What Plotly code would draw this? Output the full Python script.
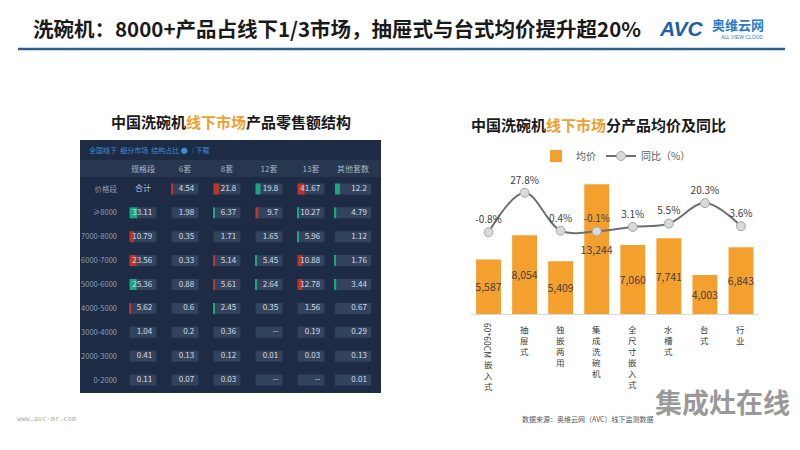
import plotly.graph_objects as go

# ---------------- data: right chart ----------------
categories = ["60*60CM嵌入式", "抽屉式", "独嵌两用", "集成洗碗机", "全尺寸嵌入式", "水槽式", "台式", "行业"]
avg_price = [5587, 8054, 5409, 13244, 7060, 7741, 4003, 6843]
yoy_pct = [-0.8, 27.8, 0.4, -0.1, 3.1, 5.5, 20.3, 3.6]

# ---------------- data: left table ----------------
table_cols = ["规格段", "6套", "8套", "12套", "13套", "其他套数"]
table_rows = ["价格段", "≥8000", "7000-8000", "6000-7000", "5000-6000",
              "4000-5000", "3000-4000", "2000-3000", "0-2000"]
table_vals = [
    ["合计", "4.54", "21.8", "19.8", "41.67", "12.2"],
    ["33.11", "1.98", "6.37", "9.7", "10.27", "4.79"],
    ["10.79", "0.35", "1.71", "1.65", "5.96", "1.12"],
    ["23.56", "0.33", "5.14", "5.45", "10.88", "1.76"],
    ["25.36", "0.88", "5.61", "2.64", "12.78", "3.44"],
    ["5.62", "0.6", "2.45", "0.35", "1.56", "0.67"],
    ["1.04", "0.2", "0.36", "--", "0.19", "0.29"],
    ["0.41", "0.13", "0.12", "0.01", "0.03", "0.13"],
    ["0.11", "0.07", "0.03", "--", "--", "0.01"],
]
# signed change indicator shown as coloured stripe (estimated)
table_change = [
    [0, -1.0, -5.0, 4.5, -6.5, 4.5],
    [7.0, 0, 1.2, -2.5, 1.2, 1.2],
    [-4.0, 0, 0, 0, 1.2, 0],
    [-6.5, 0, -1.5, 1.0, -4.5, 0.6],
    [6.5, 0, -1.5, 0.6, -4.5, 1.2],
    [-1.5, 0, 0.6, 0, 0, 0],
    [0, 0, 0, 0, 0, 0],
    [0, 0, 0, 0, 0, 0],
    [0, 0, 0, 0, 0, 0],
]

FONT = "Noto Sans CJK SC"
ORANGE = "#F4A02E"
W, H = 800, 450


def px_x(v):
    return v / W


def px_y(v):
    return 1 - v / H


fig = go.Figure()

# ---------------- right chart traces ----------------
fig.add_trace(go.Bar(
    x=categories, y=avg_price, name="均价",
    marker=dict(color=ORANGE, line=dict(width=0)),
    text=avg_price, texttemplate="%{y:,}", textposition="inside",
    insidetextanchor="middle", textangle=0, constraintext="none",
    textfont=dict(family=FONT, size=10.5, color="#404040"),
    xaxis="x", yaxis="y", cliponaxis=False,
))
fig.add_trace(go.Scatter(
    x=categories, y=yoy_pct, name="同比（%）",
    mode="lines+markers+text",
    line=dict(color="#6E6E6E", width=2, shape="spline", smoothing=1.0),
    marker=dict(size=9, color="#D9D9D9", line=dict(color="#A6A6A6", width=1)),
    text=[f"{v}%" for v in yoy_pct], textposition="top center",
    textfont=dict(family=FONT, size=10, color="#404040"),
    xaxis="x", yaxis="y2", cliponaxis=False,
))

# ---------------- left table traces ----------------
box_w = [0.64, 0.64, 0.64, 0.64, 0.64, 0.86]
k = 0.026  # stripe length per change unit (axis units)
bx, by, bbase = [], [], []
sx, sy, sbase, scol = [], [], [], []
tx, ty, tt = [], [], []
hx, hy, ht = [], [], []
for r, row in enumerate(table_rows):
    for c in range(len(table_cols)):
        val = table_vals[r][c]
        w = box_w[c]
        if val == "合计":
            hx.append(c); hy.append(row); ht.append(val)
            continue
        bx.append(w); by.append(row); bbase.append(c - w / 2)
        ch = table_change[r][c]
        if ch:
            sx.append(abs(ch) * k); sy.append(row); sbase.append(c - w / 2)
            scol.append("#1DA57E" if ch > 0 else "#B8372C")
        tx.append(c + w / 2 - 0.1); ty.append(row); tt.append(val)

fig.add_trace(go.Bar(
    x=bx, y=by, base=bbase, orientation="h", width=0.46,
    marker=dict(color="#33435E", line=dict(width=0)),
    xaxis="x3", yaxis="y3", showlegend=False, hoverinfo="skip",
))
fig.add_trace(go.Bar(
    x=sx, y=sy, base=sbase, orientation="h", width=0.46,
    marker=dict(color=scol, line=dict(width=0)),
    xaxis="x3", yaxis="y3", showlegend=False, hoverinfo="skip",
))
fig.add_trace(go.Scatter(
    x=tx, y=ty, text=tt, mode="text", textposition="middle left",
    textfont=dict(family=FONT, size=8, color="#D3DBE8"),
    xaxis="x3", yaxis="y3", showlegend=False, hoverinfo="skip", cliponaxis=False,
))
fig.add_trace(go.Scatter(
    x=hx, y=hy, text=ht, mode="text", textposition="middle center",
    textfont=dict(family=FONT, size=8, color="#AEBBD0"),
    xaxis="x3", yaxis="y3", showlegend=False, hoverinfo="skip", cliponaxis=False,
))

# ---------------- shapes ----------------
shapes = [
    dict(type="line", xref="paper", yref="paper", x0=px_x(18), x1=px_x(785),
         y0=px_y(49), y1=px_y(49), line=dict(color="#2E5E8E", width=2.5)),
    dict(type="rect", xref="paper", yref="paper", x0=px_x(80), x1=px_x(381),
         y0=px_y(393), y1=px_y(140), fillcolor="#1D2B45", line=dict(width=0), layer="below"),
    dict(type="rect", xref="paper", yref="paper", x0=px_x(80), x1=px_x(381),
         y0=px_y(177), y1=px_y(160), fillcolor="#27374F", line=dict(width=0), layer="below"),
]

# ---------------- annotations ----------------
ann = []
ann.append(dict(text="<b>洗碗机：8000+产品占线下1/3市场，抽屉式与台式均价提升超20%</b>",
                x=px_x(31), y=px_y(28), xanchor="left", yanchor="middle",
                font=dict(family=FONT, size=20.5, color="#1A1A1A")))
ann.append(dict(text="<b><i>AVC</i></b>", x=px_x(657), y=px_y(29), xanchor="left", yanchor="middle",
                font=dict(family="Liberation Sans", size=21, color="#1F5FA6")))
ann.append(dict(text="<b>奥维云网</b>", x=px_x(710), y=px_y(24), xanchor="left", yanchor="middle",
                font=dict(family=FONT, size=13, color="#2B7CC6")))
ann.append(dict(text="ALL VIEW CLOUD", x=px_x(742), y=px_y(37), xanchor="center", yanchor="middle",
                font=dict(family="Liberation Sans", size=5, color="#2B7CC6")))
ann.append(dict(text="<b>中国洗碗机<span style='color:#F0A030'>线下市场</span>产品零售额结构</b>",
                x=px_x(231), y=px_y(122), xanchor="center", yanchor="middle",
                font=dict(family=FONT, size=15, color="#1A1A1A")))
ann.append(dict(text="<b>中国洗碗机<span style='color:#F0A030'>线下市场</span>分产品均价及同比</b>",
                x=px_x(598), y=px_y(124), xanchor="center", yanchor="middle",
                font=dict(family=FONT, size=15, color="#1A1A1A")))
ann.append(dict(text="全国线下  细分市场  结构占比 ●", x=px_x(87), y=px_y(150),
                xanchor="left", yanchor="middle",
                font=dict(family=FONT, size=7, color="#3F8EDB")))
ann.append(dict(text="⫶ 下载", x=px_x(190), y=px_y(150), xanchor="left", yanchor="middle",
                font=dict(family=FONT, size=7, color="#3F8EDB")))
ann.append(dict(text="www.avc-mr.com", x=px_x(15), y=px_y(419), xanchor="left", yanchor="middle",
                font=dict(family="DejaVu Sans Mono", size=7, color="#AAAAAA")))
ann.append(dict(text="数据来源：奥维云网（AVC）线下监测数据", x=px_x(520), y=px_y(419),
                xanchor="left", yanchor="middle",
                font=dict(family=FONT, size=7, color="#555555")))
ann.append(dict(text="<b>集成灶在线</b>", x=px_x(722), y=px_y(401), xanchor="center", yanchor="middle",
                font=dict(family=FONT, size=27, color="rgba(120,120,120,0.75)")))

# vertical category labels
label_top = px_y(321)
for cat in categories:
    i = 0
    while i < len(cat) and ord(cat[i]) < 128:
        i += 1
    latin, cjk = cat[:i], cat[i:]
    shift = 0
    if latin:
        ann.append(dict(text=latin, x=cat, xref="x", y=label_top, yref="paper",
                        xanchor="center", yanchor="top", textangle=90, showarrow=False,
                        font=dict(family=FONT, size=8.5, color="#404040")))
        shift = -(len(latin) * 4.9 + 1)
    ann.append(dict(text="<br>".join(cjk), x=cat, xref="x", y=label_top, yref="paper",
                    xanchor="center", yanchor="top", yshift=shift, showarrow=False,
                    font=dict(family=FONT, size=8.5, color="#404040")))

for a in ann:
    a.setdefault("xref", "paper")
    a.setdefault("yref", "paper")
    a.setdefault("showarrow", False)

fig.update_layout(
    width=W, height=H,
    margin=dict(l=0, r=0, t=0, b=0),
    paper_bgcolor="white", plot_bgcolor="rgba(0,0,0,0)",
    barmode="overlay", bargap=0.31,
    font=dict(family=FONT),
    shapes=shapes, annotations=ann,
    showlegend=True,
    legend=dict(orientation="h", x=px_x(616), xanchor="center", y=px_y(156), yanchor="middle",
                font=dict(family=FONT, size=10, color="#595959"), bgcolor="rgba(0,0,0,0)",
                itemwidth=30, traceorder="normal"),
    xaxis=dict(domain=[px_x(470.5), px_x(759)], type="category", range=[-0.5, 7.5],
               showticklabels=False, ticks="", showgrid=False, zeroline=False,
               showline=True, linecolor="#D9D9D9", linewidth=1, anchor="y"),
    yaxis=dict(domain=[px_y(314.3), px_y(170)], range=[0, 14700], visible=False, anchor="x"),
    yaxis2=dict(domain=[px_y(314.3), px_y(170)], range=[-60, 44.2], visible=False,
                overlaying="y", anchor="x"),
    xaxis3=dict(domain=[px_x(122), px_x(374)], range=[-0.5, 5.5], side="top",
                tickvals=list(range(len(table_cols))), ticktext=table_cols,
                tickfont=dict(family=FONT, size=8, color="#A8B4CA"), ticks="",
                showgrid=False, zeroline=False, showline=False, anchor="y3", ticklabelstandoff=2),
    yaxis3=dict(domain=[px_y(392), px_y(177)], type="category",
                categoryorder="array", categoryarray=table_rows, range=[8.5, -0.5],
                tickfont=dict(family=FONT, size=7.5, color="#8F9DB5"), ticks="",
                showgrid=False, zeroline=False, showline=False, anchor="x3", ticklabelstandoff=4),
)

fig.write_html("out.html")
